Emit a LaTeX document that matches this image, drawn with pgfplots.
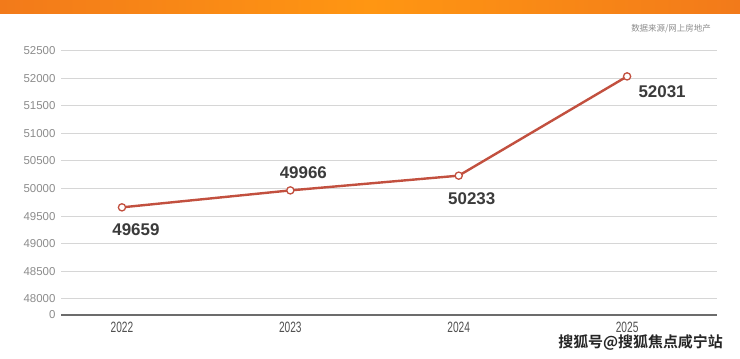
\documentclass[border=0pt]{standalone}
\usepackage{pgfplots}
\pgfplotsset{compat=1.18}
\usepackage{fontspec}
\setmainfont{Liberation Sans}
\newfontfamily\narrowfont[FakeStretch=0.68]{Liberation Sans}
\newfontfamily\cjk{Noto Sans CJK SC}
\newfontfamily\cjkbold{Noto Sans CJK SC Bold}
\definecolor{linered}{HTML}{C2503F}
\definecolor{gridgray}{HTML}{D6D6D6}
\definecolor{ticklab}{HTML}{8C8C8C}
\definecolor{xlab}{HTML}{505050}
\definecolor{vallab}{HTML}{3B3B3B}
\definecolor{orA}{HTML}{F27A1A}
\definecolor{orB}{HTML}{FF9612}
\begin{document}
\begin{tikzpicture}[x=1bp,y=1bp]
\useasboundingbox (0,0) rectangle (740,358);
\fill[white] (0,0) rectangle (740,358);
\shade[left color=orA, right color=orA, middle color=orB] (0,344) rectangle (740,358);
\node[anchor=east, font=\cjk\fontsize{8.5}{10}\selectfont, text=ticklab, inner sep=0pt] at (711,329) {数据来源/网上房地产};
\begin{axis}[
  at={(61bp,43bp)}, anchor=south west,
  scale only axis, width=656bp, height=264.5bp,
  xmin=-0.362, xmax=3.534,
  ymin=47709, ymax=52500,
  axis line style={draw=none},
  scaled y ticks=false,
  xtick={0,1,2,3}, xticklabels={2022,2023,2024,2025},
  ytick={47709,48000,48500,49000,49500,50000,50500,51000,51500,52000,52500},
  yticklabels={0,48000,48500,49000,49500,50000,50500,51000,51500,52000,52500},
  major tick length=0pt,
  ymajorgrids, grid style={gridgray, line width=0.9bp},
  yticklabel style={font=\fontsize{11.5}{12}\selectfont, text=ticklab, xshift=-2bp},
  xticklabel style={font=\narrowfont\fontsize{15}{16}\selectfont, text=xlab, yshift=-4bp},
  clip=false,
]
\draw[color=gray!85!black, line width=2bp] (axis cs:-0.362,47709) -- (axis cs:3.534,47709);
\addplot[linered, line width=2.4bp, mark=*, mark size=3.6bp, mark options={fill=white, draw=linered, line width=1.3bp}]
  coordinates {(0,49659) (1,49966) (2,50233) (3,52031)};
\tikzset{vl/.style={font=\bfseries\fontsize{17}{18}\selectfont, text=vallab, inner sep=0pt}}
\node[vl] at ([xshift=14bp, yshift=-22bp]axis cs:0,49659) {49659};
\node[vl] at ([xshift=13bp, yshift=18bp]axis cs:1,49966) {49966};
\node[vl] at ([xshift=13bp, yshift=-23bp]axis cs:2,50233) {50233};
\node[vl] at ([xshift=35bp, yshift=-15bp]axis cs:3,52031) {52031};
\end{axis}
\node[anchor=east, font=\cjkbold\fontsize{15}{16}\selectfont, text=black!85, inner sep=0pt] at (723,15.5) {搜狐号@搜狐焦点咸宁站};
\end{tikzpicture}
\end{document}
